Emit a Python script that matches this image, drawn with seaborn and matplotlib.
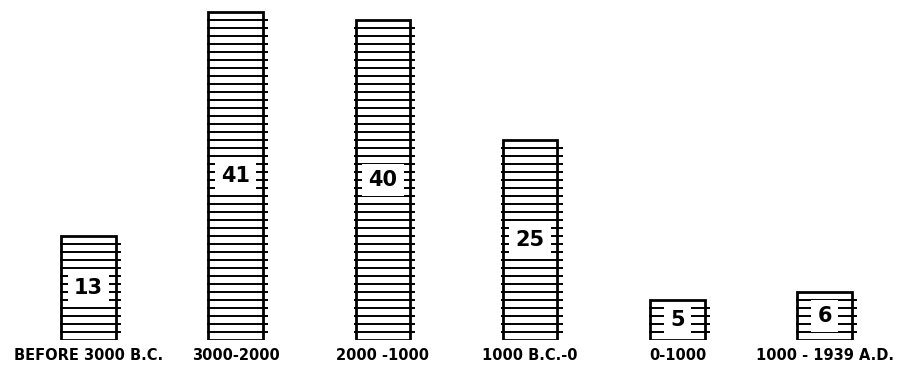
import matplotlib
matplotlib.use("Agg")
import matplotlib.pyplot as plt
import pandas as pd
import seaborn as sns

# Data
periods = ["BEFORE 3000 B.C.", "3000-2000", "2000 -1000", "1000 B.C.-0", "0-1000", "1000 - 1939 A.D."]
counts = [13, 41, 40, 25, 5, 6]

df = pd.DataFrame({"period": periods, "count": counts})

sns.set_theme(style="white")
plt.rcParams["font.family"] = ["DejaVu Sans"]

fig = plt.figure(figsize=(9.13, 3.71), dpi=100)
ax = fig.add_axes([0.0, 0.0836, 1.0, 0.9164])

sns.barplot(data=df, x="period", y="count", color="white", edgecolor="black",
            linewidth=2.0, width=0.37, saturation=1, ax=ax)

# stack of "coins": one line per unit, poking out a bit on each side
for patch, n in zip(ax.patches, counts):
    x0 = patch.get_x()
    x1 = x0 + patch.get_width()
    levels = list(range(1, n))
    ax.hlines(levels, x0 - 0.01, x1 + 0.035, color="black", linewidth=1.4)
    ax.text(x0 + patch.get_width() / 2, n / 2, str(n), ha="center", va="center",
            fontsize=15, fontweight="bold", color="black",
            bbox=dict(boxstyle="square,pad=0.3", fc="white", ec="none"))

ax.set_ylim(0, 42.5)
ax.set_xlim(-0.6, len(periods) - 0.4)
ax.set_xlabel("")
ax.set_ylabel("")
ax.set_yticks([])
ax.tick_params(axis="x", length=0, pad=6, labelsize=10.5, labelcolor="black")
for lbl in ax.get_xticklabels():
    lbl.set_fontweight("bold")
sns.despine(ax=ax, left=True, bottom=True)

fig.savefig("out.png", dpi=100)
